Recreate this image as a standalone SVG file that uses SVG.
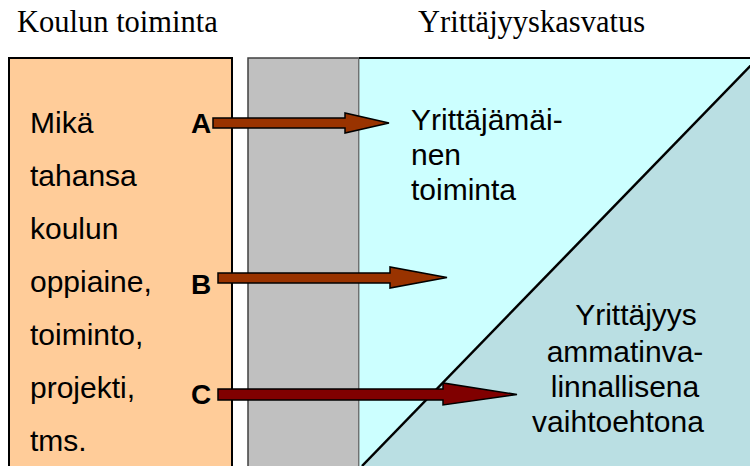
<svg xmlns="http://www.w3.org/2000/svg" width="750" height="466" viewBox="0 0 750 466">
<style>
.title{font-family:"Liberation Serif",serif;font-size:30.5px;fill:#000}
.body{font-family:"Liberation Sans",Arial,sans-serif;font-size:30px;fill:#000}
.lbl{font-family:"Liberation Sans",Arial,sans-serif;font-size:28px;font-weight:bold;fill:#000}
.arr{stroke:#000;stroke-width:1.5;stroke-linejoin:miter}
</style>
<rect width="750" height="466" fill="#fff"/>
<text class="title" x="17" y="32">Koulun toiminta</text>
<text class="title" x="418" y="32">Yrittäjyyskasvatus</text>
<g id="koulu">
<rect x="9" y="58" width="223" height="420" fill="#FFCC99" stroke="#000" stroke-width="2"/>
<text class="body" x="30" y="133">Mikä</text>
<text class="body" x="30" y="186">tahansa</text>
<text class="body" x="30" y="239">koulun</text>
<text class="body" x="30" y="292">oppiaine,</text>
<text class="body" x="30" y="345">toiminto,</text>
<text class="body" x="30" y="398">projekti,</text>
<text class="body" x="30" y="451">tms.</text>
<text class="lbl" x="191" y="133">A</text>
<text class="lbl" x="191" y="294">B</text>
<text class="lbl" x="191" y="404">C</text>
</g>
<g id="harmaa">
<rect x="248" y="58" width="111" height="420" fill="#C0C0C0" stroke="#404040" stroke-width="1.5"/>
</g>
<g id="yrittajyys">
<rect x="359" y="58" width="400" height="420" fill="#CCFFFF" stroke="#808080" stroke-width="1"/>
<line x1="359" y1="58" x2="750" y2="58" stroke="#000" stroke-width="2"/>
<polygon points="758,58 362,466 760,466" fill="#BADFE3"/>
<line x1="758" y1="58" x2="362" y2="466" stroke="#000" stroke-width="2.5"/>
<text class="body" x="411" y="130">Yrittäjämäi-</text>
<text class="body" x="411" y="165">nen</text>
<text class="body" x="411" y="200">toiminta</text>
<text class="body" x="636" y="325" text-anchor="middle">Yrittäjyys</text>
<text class="body" x="625" y="362" text-anchor="middle">ammatinva-</text>
<text class="body" x="625" y="397" text-anchor="middle">linnallisena</text>
<text class="body" x="618" y="432" text-anchor="middle">vaihtoehtona</text>
</g>
<g id="connectors">
<polygon class="arr" fill="#993300" points="213,118 345,118 345,113 389,123 345,133 345,128 213,128"/>
<polygon class="arr" fill="#993300" points="218,273 390,273 390,267 447,277.5 390,288 390,283 218,283"/>
<polygon class="arr" fill="#800000" points="218,389 443,389 443,383 517,394.5 443,405 443,400 218,400"/>
</g>
</svg>
